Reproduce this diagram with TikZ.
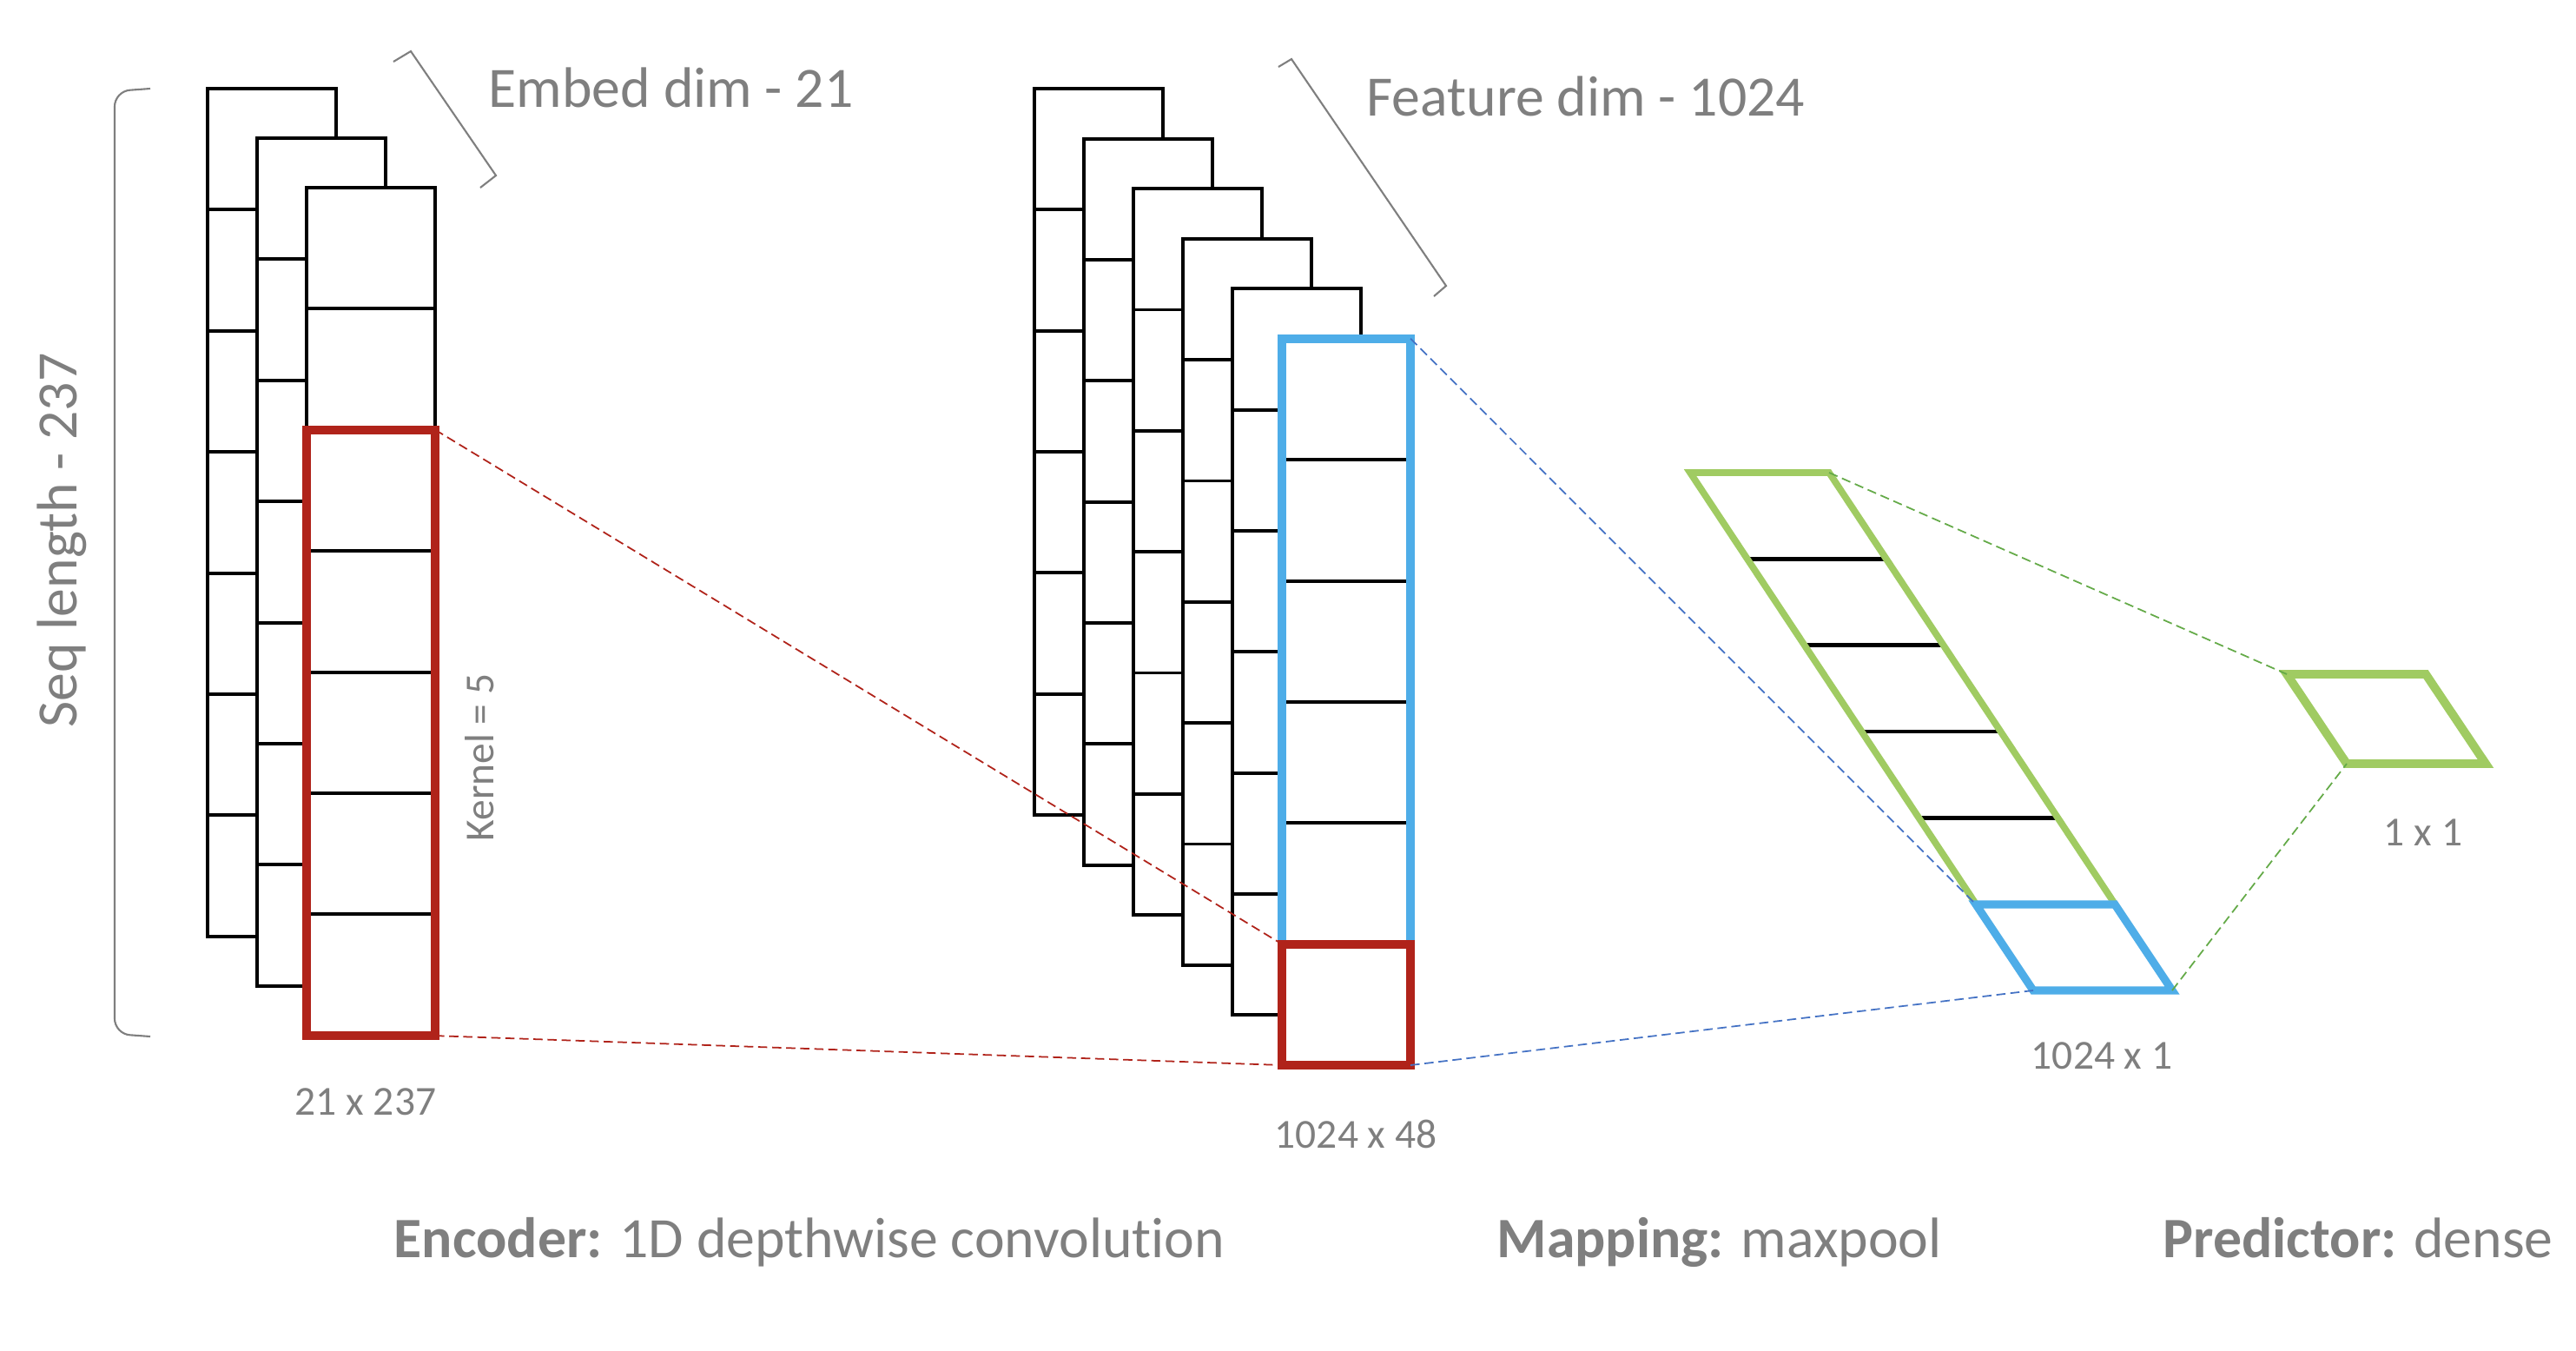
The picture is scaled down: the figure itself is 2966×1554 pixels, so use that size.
\documentclass[tikz,border=0pt]{standalone}
\usepackage{fontspec}
\setmainfont{Carlito}[Ligatures=NoCommon]
\usepackage{tikz}
\usetikzlibrary{positioning,calc}
\definecolor{kred}{RGB}{176,35,26}
\definecolor{kblue}{RGB}{78,173,232}
\definecolor{kgreen}{RGB}{160,203,98}
\definecolor{lblue}{RGB}{68,114,196}
\definecolor{lgreen}{RGB}{100,170,72}
\definecolor{tgrey}{RGB}{127,127,127}
\tikzset{
    x=0.01cm,
    y=-0.01cm,
    layer/.style = {
        draw,
        fill=white,
        line width=1.1pt
    },
    cellline/.style = {
        draw,
        line width=1.1pt
    },
    kbox/.style = {
        draw,
        shape=rectangle,
        inner sep=0pt,
        outer sep=0pt,
        minimum width=1.48cm,
        line width=2.8pt
    },
    guide/.style = {
        draw,
        dash pattern=on 3pt off 1.6pt,
        line width=0.5pt
    },
    brace/.style = {
        draw,
        color=tgrey,
        line width=0.6pt
    },
    biglabel/.style = {
        text=tgrey,
        inner sep=0pt,
        font=\fontsize{18.7}{22}\selectfont
    },
    smalllabel/.style = {
        text=tgrey,
        inner sep=0pt,
        font=\fontsize{13.5}{16}\selectfont
    },
}

\begin{document}
\begin{tikzpicture}
                \useasboundingbox (0,0) rectangle (2966,1554);

                % embedding: 3 layers of 7 cells
                \foreach \k in {0,1,2} {
                    \path[layer] ({239+57*\k},{102+57*\k}) rectangle ++(148,976);
                    \foreach \c in {1,...,6}
                        \path[cellline] ({239+57*\k},{102+57*\k+139.4*\c}) -- ++(148,0);
                }
                \node[kbox, draw=kred, minimum height=6.97cm] (embkernel) at (427,843.4) {};

                % features: 6 layers of 6 cells
                \foreach \k in {0,...,5} {
                    \path[layer] ({1191+57*\k},{102+57.6*\k}) rectangle ++(148,836);
                    \foreach \c in {1,...,5}
                        \path[cellline] ({1191+57*\k},{102+57.6*\k+139.33*\c}) -- ++(148,0);
                }
                \node[kbox, draw=kblue, minimum height=6.967cm] (featmap) at (1550,738.3) {};
                \node[kbox, draw=kred, minimum height=1.393cm] (featkernel) at (1550,1156.3) {};

                % maxpool column and dense unit
                \coordinate (poolNW) at (1946,544);
                \coordinate (poolNE) at (2106,544);
                \coordinate (poolSE) at (2501,1140);
                \coordinate (poolSW) at (2341,1140);
                \coordinate (maxNW) at (2275,1041);
                \coordinate (maxNE) at (2435,1041);
                \coordinate (denseNW) at (2633,776);
                \coordinate (denseNE) at (2793,776);
                \coordinate (denseSE) at (2862,879);
                \coordinate (denseSW) at (2702,879);

                \foreach \c in {1,...,4}
                    \path[draw, line width=1.3pt] ({1946+65.86*\c},{544+99.33*\c}) -- ++(160,0);
                \path[draw, kgreen, line width=2.2pt] (poolNW) -- (poolNE) -- (poolSE) -- (poolSW) -- cycle;
                \path[draw, kblue, line width=2.6pt] (maxNW) -- (maxNE) -- (poolSE) -- (poolSW) -- cycle;
                \path[draw, kgreen, line width=2.8pt] (denseNW) -- (denseNE) -- (denseSE) -- (denseSW) -- cycle;

                % projections
                \path[guide, kred] (embkernel.north east) -- (featkernel.north west);
                \path[guide, kred] (embkernel.south east) -- (featkernel.south west);
                \path[guide, lblue] (featmap.north east) -- (maxNW);
                \path[guide, lblue] (featkernel.south east) -- (poolSW);
                \path[guide, lgreen] (poolNE) -- (denseNW);
                \path[guide, lgreen] (poolSE) -- (denseSW);

                % brackets
                \path[brace, rounded corners=5] (173,102) -- (132,105) -- (132,1190) -- (173,1193);
                \path[brace] (453,71) -- (473,59) -- (571,202) -- (553,216);
                \path[brace] (1472,77) -- (1487,68) -- (1665,329) -- (1651,341);

                \node[biglabel, anchor=base west] (embdim) at (562,123) {Embed dim - 21};
                \node[biglabel, anchor=base west] (featdim) at (1573,133) {Feature dim - 1024};
                \node[biglabel, rotate=90, anchor=base] (seqlen) at (88,622) {Seq length - 237};
                \node[smalllabel, rotate=90, anchor=base] (kernel) at (568,872) {Kernel = 5};
                \node[smalllabel] (embsize) at (421,1268) {21 x 237};
                \node[smalllabel] (featsize) at (1561,1305) {1024 x 48};
                \node[smalllabel] (poolsize) at (2420,1215) {1024 x 1};
                \node[smalllabel] (densesize) at (2790,958) {1 x 1};

                \node[biglabel, anchor=base west] (encoder) at (453,1447) {\textbf{Encoder:} 1D depthwise convolution};
                \node[biglabel, anchor=base west] (mapping) at (1723,1447) {\textbf{Mapping:} maxpool};
                \node[biglabel, anchor=base west] (predictor) at (2490,1447) {\textbf{Predictor:} dense};
            \end{tikzpicture}
\end{document}
